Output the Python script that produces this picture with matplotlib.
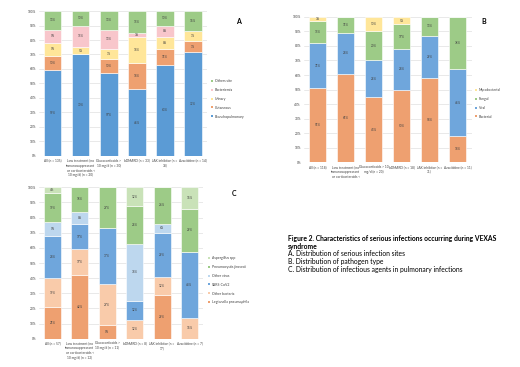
import matplotlib
matplotlib.use("Agg")
import matplotlib.pyplot as plt
from matplotlib.patches import Patch
import numpy as np

plt.rcParams['font.family'] = ['Lato', 'DejaVu Sans']

# ---------------- Data ----------------
cats_A = ["All (n = 135)",
          "Low treatment (no\nimmunosuppressant\nor corticosteroids <\n10 mg/d) (n = 20)",
          "Glucocorticoids >\n10 mg/d (n = 30)",
          "bDMARD (n = 33)",
          "JAK inhibitor (n =\n38)",
          "Azacitidine (n = 14)"]
series_A = ["Bronchopulmonary", "Cutaneous", "Urinary", "Bacteriemia", "Others site"]
bronchopulmonary = [59, 70, 57, 46, 63, 72]
cutaneous = [10, 0, 10, 18, 11, 7]
urinary = [9, 5, 7, 18, 8, 7]
bacteriemia = [9, 15, 13, 3, 8, 0]
others_site = [13, 10, 13, 15, 10, 14]

cats_B = ["All (n = 118)",
          "Low treatment (no\nimmunosuppressant\nor corticosteroids <",
          "Glucocorticoids > 10\nmg/d (n = 20)",
          "bDMARD (n = 18)",
          "JAK inhibitor (n =\n31)",
          "Azacitidine (n = 11)"]
series_B = ["Bacterial", "Viral", "Fungal", "Mycobacterial"]
bacterial = [51, 61, 45, 50, 58, 18]
viral = [31, 28, 25, 28, 29, 46]
fungal = [15, 11, 20, 17, 13, 36]
mycobacterial = [3, 0, 10, 5, 0, 0]

cats_C = ["All (n = 57)",
          "Low treatment (no\nimmunosuppressant\nor corticosteroids <\n10 mg/d) (n = 12)",
          "Glucocorticoids >\n10 mg/d (n = 11)",
          "bDMARD (n = 8)",
          "JAK inhibitor (n =\n17)",
          "Azacitidine (n = 7)"]
series_C = ["Legionella pneumophila", "Other bacteria", "SARS-CoV2", "Other virus",
            "Pneumocystis jirovecii", "Aspergillus spp"]
legionella = [21, 42, 9, 0, 29, 0]
other_bacteria = [19, 17, 27, 12.5, 12, 14]
sars_cov2 = [28, 17, 37, 12.5, 29, 43]
other_virus = [9, 8, 0, 37.5, 6, 0]
pneumocystis = [19, 16, 27, 25, 24, 29]
aspergillus = [4, 0, 0, 12.5, 0, 14]

colors_A = ["#5B9BD5", "#EE A070".replace(" ", ""), "#FFE699", "#F8C6CB", "#9DCB87"]
colors_B = ["#EEA070", "#6FA6DC", "#9DCB87", "#FFE699"]
colors_C = ["#EEA070", "#F9CBAA", "#6FA6DC", "#BDD7EE", "#9DCB87", "#C9E2B8"]

TXT = "#404040"


def panel(rect, cats, names, data, colors, letter, letter_pos, leg_pos):
    ax = fig.add_axes(rect)
    x = np.arange(len(cats))
    bottom = np.zeros(len(cats))
    handles = []
    for name, vals, col in zip(names, data, colors):
        vals = np.array(vals, dtype=float)
        ax.bar(x, vals, 0.62, bottom=bottom, color=col, edgecolor="white",
               linewidth=0.4, zorder=3)
        for xi, v, b in zip(x, vals, bottom):
            if v > 0:
                ax.text(xi, b + v / 2, f"{v:.0f}%", ha="center", va="center",
                        fontsize=2.2, color=TXT, zorder=4)
        bottom += vals
        handles.append(Patch(facecolor=col, edgecolor="none", label=name))
    ax.set_xlim(-0.5, len(cats) - 0.5)
    ax.set_ylim(0, 100)
    ax.set_yticks(np.arange(0, 101, 10))
    ax.set_yticklabels([f"{t}%" for t in range(0, 101, 10)], fontsize=2.3, color=TXT)
    ax.set_xticks(x)
    ax.set_xticklabels(cats, fontsize=2.3, color=TXT, linespacing=1.3, va="top")
    ax.tick_params(length=0, pad=2)
    ax.grid(axis="y", color="#D9D9D9", linewidth=0.4, zorder=0)
    for s in ax.spines.values():
        s.set_visible(False)
    ax.axhline(0, color="#D9D9D9", linewidth=0.5, zorder=2)
    fig.text(letter_pos[0], letter_pos[1], letter, fontsize=5, fontweight="bold",
             ha="center", va="center")
    fig.legend(handles=handles[::-1], loc="upper left", bbox_to_anchor=leg_pos,
               frameon=False, fontsize=2.5, handlelength=0.5, handleheight=0.5,
               handletextpad=0.6, labelspacing=1.4, labelcolor=TXT)
    return ax


fig = plt.figure(figsize=(5.2, 3.67), dpi=100)

panel([0.0744, 0.575, 0.3237, 0.395], cats_A, series_A,
      [bronchopulmonary, cutaneous, urinary, bacteriemia, others_site],
      colors_A, "A", (238 / 520, 1 - 21 / 367), (208 / 520, 1 - 76 / 367))

panel([0.584, 0.558, 0.323, 0.396], cats_B, series_B,
      [bacterial, viral, fungal, mycobacterial],
      colors_B, "B", (484 / 520, 1 - 21 / 367), (472 / 520, 1 - 85 / 367))

panel([0.0746, 0.0771, 0.316, 0.4125], cats_C, series_C,
      [legionella, other_bacteria, sars_cov2, other_virus, pneumocystis, aspergillus],
      colors_C, "C", (234 / 520, 1 - 194 / 367), (205 / 520, 1 - 253 / 367))

# Caption
cx = 288 / 520
fs = 4.9
fig.text(cx, 1 - 238.3 / 367, "Figure 2. Characteristics of serious infections occurring during VEXAS",
         fontsize=fs, fontweight="bold", va="center", ha="left")
fig.text(cx, 1 - 246 / 367, "syndrome", fontsize=fs, fontweight="bold", va="center", ha="left")
fig.text(cx, 1 - 254 / 367, "A. Distribution of serious infection sites", fontsize=fs,
         va="center", ha="left")
fig.text(cx, 1 - 261.5 / 367, "B. Distribution of pathogen type", fontsize=fs,
         va="center", ha="left")
fig.text(cx, 1 - 269.3 / 367, "C. Distribution of infectious agents in pulmonary infections",
         fontsize=fs, va="center", ha="left")

fig.savefig("out.png", dpi=100)
